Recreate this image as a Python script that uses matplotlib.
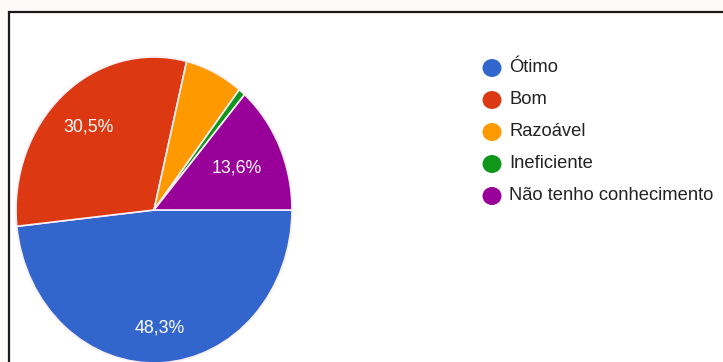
import numpy as np
import matplotlib
matplotlib.use("Agg")
import matplotlib.pyplot as plt
from matplotlib.patches import Rectangle, Ellipse

categories = ["Ótimo", "Bom", "Razoável", "Ineficiente", "Não tenho conhecimento"]
values = [48.3, 30.5, 6.8, 0.8, 13.6]
colors = ["#3366CC", "#DC3912", "#FF9900", "#109618", "#990099"]

W, H = 723, 362
DPI = 100
fig = plt.figure(figsize=(W / DPI, H / DPI), dpi=DPI)
fig.patch.set_facecolor("#FCFBF8")

# framed white panel with dark border (extends past right/bottom edges)
panel = Rectangle((9 / W, -0.1), 1.2, (H - 12) / H + 0.1, transform=fig.transFigure,
                  facecolor="white", edgecolor="#1a1a1a", linewidth=1.6, zorder=-5)
fig.patches.append(panel)

# pie axes: elliptical pie, center (154,210) px, rx=138, ry=153
cx, cy, rx, ry = 154, 210, 138, 153
ax = fig.add_axes([(cx - rx) / W, (H - cy - ry) / H, 2 * rx / W, 2 * ry / H], zorder=2)
ax.patch.set_alpha(0)
wedges, _ = ax.pie(values, colors=colors, startangle=0, counterclock=False,
                   wedgeprops=dict(edgecolor="#FBEFF8", linewidth=1.2))
ax.set_aspect("auto")
ax.set_xlim(-1, 1)
ax.set_ylim(-1, 1)
ax.axis("off")

# percentage labels (shown for the larger slices only)
label_r = [0.77, 0.72, 0.7, 0.7, 0.66]
for w, v, r in zip(wedges, values, label_r):
    if v < 10:
        continue
    mid = np.deg2rad((w.theta1 + w.theta2) / 2)
    ax.text(r * np.cos(mid), r * np.sin(mid), f"{v:.1f}%".replace(".", ","),
            ha="center", va="center", color="white", fontsize=12.8,
            family="Liberation Sans")

# legend drawn manually
lx_dot, lx_txt, ly0, dy = 492, 509, 68, 32
for i, (lab, col) in enumerate(zip(categories, colors)):
    y = ly0 + dy * i
    fig.patches.append(Ellipse(
        (lx_dot / W, 1 - y / H), 19 / W, 18 / H, transform=fig.transFigure,
        facecolor=col, edgecolor="none", zorder=3))
    fig.text(lx_txt / W, 1 - y / H, lab, ha="left", va="center", color="#222222",
             fontsize=13.2, family="Liberation Sans")

fig.savefig("out.png", dpi=DPI)
